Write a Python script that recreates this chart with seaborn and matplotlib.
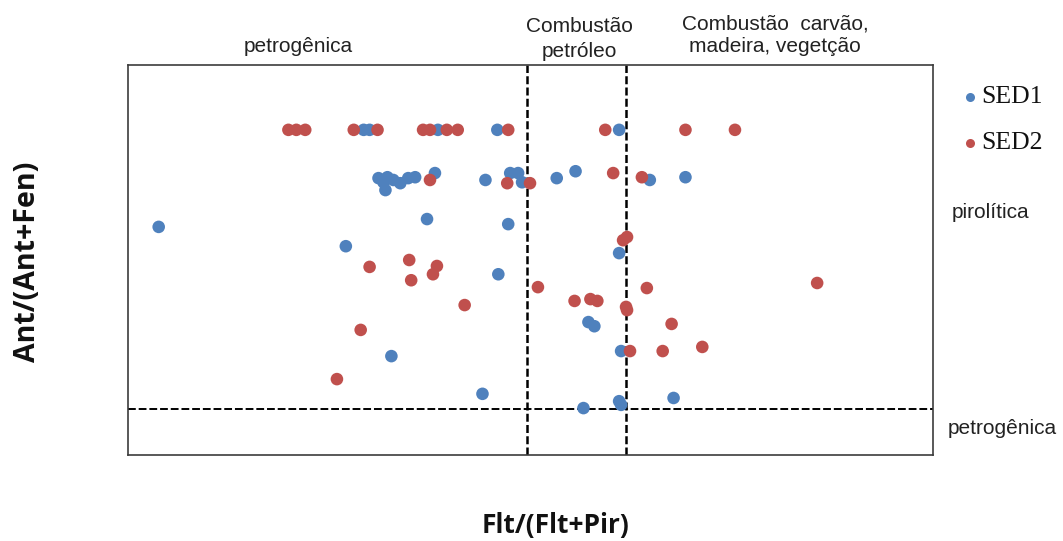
import matplotlib
matplotlib.use("Agg")
import matplotlib.pyplot as plt
from matplotlib.lines import Line2D
import pandas as pd
import seaborn as sns

# Diagnostic ratios Flt/(Flt+Pir) vs Ant/(Ant+Fen)
sed1_x = [0.031, 0.238, 0.244, 0.313, 0.373, 0.496,
          0.253, 0.258, 0.260, 0.262, 0.268, 0.275, 0.283, 0.290, 0.310,
          0.361, 0.386, 0.394, 0.398, 0.433, 0.452, 0.527, 0.563,
          0.302, 0.384, 0.220, 0.496, 0.374, 0.465, 0.471,
          0.266, 0.498, 0.358, 0.460, 0.496, 0.498, 0.551]
sed1_y = [0.496, 0.707, 0.707, 0.707, 0.707, 0.707,
          0.602, 0.593, 0.576, 0.604, 0.598, 0.591, 0.602, 0.604, 0.613,
          0.598, 0.613, 0.613, 0.593, 0.602, 0.617, 0.598, 0.604,
          0.513, 0.502, 0.454, 0.439, 0.393, 0.289, 0.280,
          0.215, 0.226, 0.133, 0.102, 0.117, 0.109, 0.124]

sed2_x = [0.162, 0.170, 0.179, 0.228, 0.252, 0.298, 0.305, 0.322, 0.333,
          0.384, 0.482, 0.563, 0.613,
          0.305, 0.383, 0.406, 0.490, 0.519,
          0.500, 0.504, 0.284, 0.312, 0.244, 0.286, 0.308,
          0.414, 0.696, 0.524, 0.340, 0.451, 0.467, 0.474,
          0.503, 0.504, 0.549, 0.235, 0.507, 0.540, 0.580, 0.211]
sed2_y = [0.707, 0.707, 0.707, 0.707, 0.707, 0.707, 0.707, 0.707, 0.707,
          0.707, 0.707, 0.707, 0.707,
          0.598, 0.591, 0.591, 0.613, 0.604,
          0.467, 0.474, 0.424, 0.411, 0.409, 0.380, 0.393,
          0.365, 0.374, 0.363, 0.326, 0.335, 0.339, 0.335,
          0.322, 0.315, 0.285, 0.272, 0.226, 0.226, 0.235, 0.165]

series_names = ["SED1", "SED2"]
flt_limits = [0.403, 0.503]
ant_limit = 0.101

df = pd.concat([
    pd.DataFrame({"x": sed1_x, "y": sed1_y, "amostra": series_names[0]}),
    pd.DataFrame({"x": sed2_x, "y": sed2_y, "amostra": series_names[1]}),
], ignore_index=True)

sns.set_style("white")
plt.rcParams["font.family"] = ["Liberation Sans", "DejaVu Sans"]

W, H = 1063, 541
fig = plt.figure(figsize=(W / 100, H / 100), dpi=100)
ax = fig.add_axes([128 / W, 1 - 455 / H, (933 - 128) / W, (455 - 65) / H])

palette = {"SED1": "#4F81BD", "SED2": "#C0504D"}
sns.scatterplot(data=df, x="x", y="y", hue="amostra", palette=palette,
                s=82, edgecolor="none", linewidth=0, legend=False, ax=ax,
                zorder=3)

ax.set_xlim(0, 0.813)
ax.set_ylim(0, 0.848)
ax.set_xticks([])
ax.set_yticks([])
ax.set_xlabel("")
ax.set_ylabel("")
for sp in ax.spines.values():
    sp.set_color("#3c3c3c")
    sp.set_linewidth(1.2)

for xv in flt_limits:
    ax.axvline(xv, color="black", linestyle=(0, (3.2, 1.3)), linewidth=1.8,
               zorder=2)
ax.axhline(ant_limit, color="black", linestyle=(0, (4, 1.5)), linewidth=1.4,
           zorder=2)


def ftext(px, py, s, **kw):
    fig.text(px / W, 1 - py / H, s, **kw)


txt = dict(fontsize=15, color="#222222")
# region annotations
ftext(298, 47, "petrogênica", ha="center", va="center", **txt)
ftext(579, 39, "Combustão\npetróleo", ha="center", va="center",
      linespacing=1.35, **txt)
ftext(775, 35, "Combustão  carvão,\nmadeira, vegetção", ha="center",
      va="center", linespacing=1.25, **txt)
ftext(952, 213, "pirolítica", ha="left", va="center", **txt)
ftext(948, 428, "petrogênica", ha="left", va="center", **txt)

# legend
for name, py in zip(series_names, [97, 143]):
    fig.add_artist(Line2D([970 / W], [1 - py / H], marker="o",
                          linestyle="none", markersize=6.5,
                          markerfacecolor=palette[name], markeredgewidth=0,
                          transform=fig.transFigure))
    ftext(981, py, name, ha="left", va="center", fontsize=18.5,
          family=["Liberation Serif", "DejaVu Serif"], color="#111111")

lab = dict(fontweight="bold", family=["Open Sans", "DejaVu Sans"],
           color="#111111")
ftext(28, 262, "Ant/(Ant+Fen)", rotation=90, ha="center", va="center",
      fontsize=20.5, **lab)
ftext(555, 526, "Flt/(Flt+Pir)", ha="center", va="center", fontsize=19,
      **lab)

fig.savefig("out.png", dpi=100, facecolor="white")
